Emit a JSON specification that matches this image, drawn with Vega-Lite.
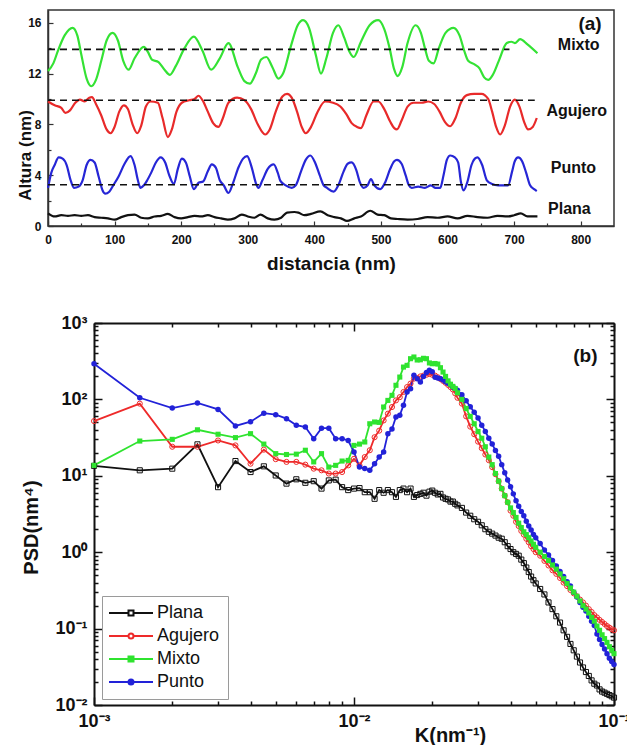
{
  "$schema": "https://vega.github.io/schema/vega-lite/v6.json",
  "background": "white",
  "padding": {"left": 15, "top": 9, "right": 5, "bottom": 0},
  "spacing": 40,
  "config": {"font": "Liberation Sans"},
  "resolve": {"scale": {"color": "independent", "shape": "independent", "x": "independent", "y": "independent"}},
  "vconcat": [
    {
      "width": 566,
      "height": 216,
      "view": {"stroke": "#333", "strokeWidth": 1.5},
      "encoding": {
        "x": {"field": "x", "type": "quantitative", "title": "distancia (nm)",
          "scale": {"domain": [0, 850], "nice": false, "zero": false},
          "axis": {"values": [0,50,100,150,200,250,300,350,400,450,500,550,600,650,700,750,800],
            "labelExpr": "datum.value % 100 == 0 ? datum.label : ''",
            "tickSize": {"condition": {"test": "datum.value % 100 == 0", "value": -5}, "value": -3},
            "labelPadding": 13, "labelFontSize": 12, "labelFontWeight": "bold", "labelColor": "#111",
            "labelFlush": false, "labelOverlap": false, "grid": false,
            "tickColor": "#333", "tickWidth": 1.2, "domainColor": "#333", "domainWidth": 1.5,
            "titleFontSize": 19, "titleFontWeight": "bold", "titleColor": "#111", "titleY": 28}},
        "y": {"field": "y", "type": "quantitative", "title": "Altura (nm)",
          "scale": {"domain": [0, 17], "nice": false, "zero": false},
          "axis": {"values": [0,2,4,6,8,10,12,14,16],
            "labelExpr": "datum.value % 4 == 0 ? datum.label : ''",
            "tickSize": {"condition": {"test": "datum.value % 4 == 0", "value": -5}, "value": -3},
            "labelPadding": 12, "labelFontSize": 12, "labelFontWeight": "bold", "labelColor": "#111",
            "labelOverlap": false, "grid": false,
            "tickColor": "#333", "tickWidth": 1.2, "domainColor": "#333", "domainWidth": 1.5,
            "titleFontSize": 17, "titleFontWeight": "bold", "titleColor": "#111", "titleX": -14, "titleY": 145}}
      },
      "layer": [
        {
          "data": {"values": [
            {"s":"Mixto","x":0,"y":12.2},{"s":"Mixto","x":8,"y":12.8},{"s":"Mixto","x":15,"y":13.8},{"s":"Mixto","x":25,"y":15.0},{"s":"Mixto","x":37,"y":15.6},{"s":"Mixto","x":44,"y":15.0},{"s":"Mixto","x":50,"y":13.5},{"s":"Mixto","x":58,"y":11.6},{"s":"Mixto","x":65,"y":11.0},{"s":"Mixto","x":72,"y":11.5},{"s":"Mixto","x":80,"y":13.0},{"s":"Mixto","x":88,"y":14.6},{"s":"Mixto","x":97,"y":15.2},{"s":"Mixto","x":105,"y":14.6},{"s":"Mixto","x":113,"y":13.0},{"s":"Mixto","x":121,"y":12.3},{"s":"Mixto","x":130,"y":13.2},{"s":"Mixto","x":144,"y":14.1},{"s":"Mixto","x":150,"y":13.7},{"s":"Mixto","x":156,"y":13.1},{"s":"Mixto","x":166,"y":12.9},{"s":"Mixto","x":175,"y":12.3},{"s":"Mixto","x":183,"y":11.9},{"s":"Mixto","x":192,"y":12.6},{"s":"Mixto","x":205,"y":14.0},{"s":"Mixto","x":219,"y":14.9},{"s":"Mixto","x":232,"y":13.8},{"s":"Mixto","x":245,"y":12.3},{"s":"Mixto","x":258,"y":13.2},{"s":"Mixto","x":271,"y":14.4},{"s":"Mixto","x":285,"y":12.5},{"s":"Mixto","x":295,"y":11.4},{"s":"Mixto","x":303,"y":11.2},{"s":"Mixto","x":312,"y":12.0},{"s":"Mixto","x":320,"y":13.1},{"s":"Mixto","x":328,"y":13.3},{"s":"Mixto","x":337,"y":12.5},{"s":"Mixto","x":346,"y":11.6},{"s":"Mixto","x":353,"y":12.0},{"s":"Mixto","x":365,"y":14.2},{"s":"Mixto","x":375,"y":15.8},{"s":"Mixto","x":383,"y":16.2},{"s":"Mixto","x":392,"y":15.6},{"s":"Mixto","x":402,"y":13.5},{"s":"Mixto","x":410,"y":12.0},{"s":"Mixto","x":418,"y":13.2},{"s":"Mixto","x":428,"y":15.2},{"s":"Mixto","x":436,"y":15.8},{"s":"Mixto","x":445,"y":14.8},{"s":"Mixto","x":452,"y":13.8},{"s":"Mixto","x":459,"y":13.3},{"s":"Mixto","x":470,"y":14.5},{"s":"Mixto","x":483,"y":15.8},{"s":"Mixto","x":496,"y":16.2},{"s":"Mixto","x":505,"y":15.5},{"s":"Mixto","x":513,"y":14.0},{"s":"Mixto","x":520,"y":12.3},{"s":"Mixto","x":525,"y":11.8},{"s":"Mixto","x":532,"y":12.5},{"s":"Mixto","x":540,"y":14.4},{"s":"Mixto","x":552,"y":15.8},{"s":"Mixto","x":560,"y":15.2},{"s":"Mixto","x":566,"y":14.0},{"s":"Mixto","x":572,"y":13.0},{"s":"Mixto","x":579,"y":12.8},{"s":"Mixto","x":587,"y":14.0},{"s":"Mixto","x":597,"y":15.2},{"s":"Mixto","x":609,"y":15.6},{"s":"Mixto","x":618,"y":15.0},{"s":"Mixto","x":625,"y":13.8},{"s":"Mixto","x":631,"y":13.0},{"s":"Mixto","x":641,"y":12.7},{"s":"Mixto","x":648,"y":12.4},{"s":"Mixto","x":655,"y":11.7},{"s":"Mixto","x":661,"y":11.5},{"s":"Mixto","x":668,"y":11.9},{"s":"Mixto","x":677,"y":13.0},{"s":"Mixto","x":689,"y":14.4},{"s":"Mixto","x":696,"y":14.5},{"s":"Mixto","x":701,"y":14.4},{"s":"Mixto","x":709,"y":14.7},{"s":"Mixto","x":720,"y":14.3},{"s":"Mixto","x":735,"y":13.6},
            {"s":"Agujero","x":0,"y":9.8},{"s":"Agujero","x":10,"y":9.5},{"s":"Agujero","x":20,"y":9.3},{"s":"Agujero","x":26,"y":8.9},{"s":"Agujero","x":33,"y":9.1},{"s":"Agujero","x":41,"y":9.7},{"s":"Agujero","x":48,"y":9.95},{"s":"Agujero","x":55,"y":9.8},{"s":"Agujero","x":62,"y":10.1},{"s":"Agujero","x":66,"y":10.15},{"s":"Agujero","x":72,"y":9.6},{"s":"Agujero","x":80,"y":8.7},{"s":"Agujero","x":88,"y":7.6},{"s":"Agujero","x":94,"y":7.3},{"s":"Agujero","x":100,"y":7.8},{"s":"Agujero","x":107,"y":9.0},{"s":"Agujero","x":114,"y":9.5},{"s":"Agujero","x":120,"y":9.2},{"s":"Agujero","x":127,"y":8.0},{"s":"Agujero","x":134,"y":7.3},{"s":"Agujero","x":140,"y":7.9},{"s":"Agujero","x":147,"y":9.4},{"s":"Agujero","x":154,"y":9.8},{"s":"Agujero","x":165,"y":9.7},{"s":"Agujero","x":172,"y":8.5},{"s":"Agujero","x":180,"y":7.0},{"s":"Agujero","x":186,"y":7.6},{"s":"Agujero","x":193,"y":9.0},{"s":"Agujero","x":201,"y":9.7},{"s":"Agujero","x":212,"y":9.9},{"s":"Agujero","x":220,"y":10.0},{"s":"Agujero","x":226,"y":10.25},{"s":"Agujero","x":232,"y":9.9},{"s":"Agujero","x":240,"y":9.0},{"s":"Agujero","x":248,"y":8.1},{"s":"Agujero","x":256,"y":7.8},{"s":"Agujero","x":262,"y":8.4},{"s":"Agujero","x":271,"y":9.7},{"s":"Agujero","x":284,"y":10.1},{"s":"Agujero","x":295,"y":9.9},{"s":"Agujero","x":305,"y":9.2},{"s":"Agujero","x":315,"y":8.0},{"s":"Agujero","x":326,"y":7.2},{"s":"Agujero","x":333,"y":7.6},{"s":"Agujero","x":342,"y":9.0},{"s":"Agujero","x":352,"y":10.2},{"s":"Agujero","x":359,"y":10.4},{"s":"Agujero","x":366,"y":10.1},{"s":"Agujero","x":374,"y":9.0},{"s":"Agujero","x":381,"y":7.8},{"s":"Agujero","x":387,"y":7.3},{"s":"Agujero","x":395,"y":7.8},{"s":"Agujero","x":405,"y":9.0},{"s":"Agujero","x":416,"y":9.8},{"s":"Agujero","x":428,"y":9.7},{"s":"Agujero","x":439,"y":9.4},{"s":"Agujero","x":448,"y":8.8},{"s":"Agujero","x":456,"y":8.1},{"s":"Agujero","x":464,"y":7.8},{"s":"Agujero","x":470,"y":7.7},{"s":"Agujero","x":478,"y":8.7},{"s":"Agujero","x":489,"y":9.8},{"s":"Agujero","x":496,"y":9.8},{"s":"Agujero","x":505,"y":9.2},{"s":"Agujero","x":514,"y":8.2},{"s":"Agujero","x":520,"y":7.7},{"s":"Agujero","x":524,"y":7.6},{"s":"Agujero","x":531,"y":8.3},{"s":"Agujero","x":540,"y":9.4},{"s":"Agujero","x":549,"y":9.7},{"s":"Agujero","x":561,"y":9.7},{"s":"Agujero","x":571,"y":9.8},{"s":"Agujero","x":580,"y":9.6},{"s":"Agujero","x":588,"y":9.0},{"s":"Agujero","x":596,"y":8.2},{"s":"Agujero","x":604,"y":7.85},{"s":"Agujero","x":612,"y":8.5},{"s":"Agujero","x":620,"y":9.7},{"s":"Agujero","x":629,"y":10.3},{"s":"Agujero","x":640,"y":10.4},{"s":"Agujero","x":651,"y":10.4},{"s":"Agujero","x":661,"y":10.0},{"s":"Agujero","x":667,"y":9.0},{"s":"Agujero","x":673,"y":7.8},{"s":"Agujero","x":679,"y":7.2},{"s":"Agujero","x":686,"y":7.9},{"s":"Agujero","x":694,"y":9.4},{"s":"Agujero","x":701,"y":9.95},{"s":"Agujero","x":708,"y":9.4},{"s":"Agujero","x":715,"y":8.2},{"s":"Agujero","x":721,"y":7.6},{"s":"Agujero","x":728,"y":7.8},{"s":"Agujero","x":734,"y":8.5},
            {"s":"Punto","x":0,"y":3.0},{"s":"Punto","x":5,"y":4.2},{"s":"Punto","x":10,"y":4.8},{"s":"Punto","x":16,"y":5.4},{"s":"Punto","x":22,"y":5.3},{"s":"Punto","x":28,"y":4.8},{"s":"Punto","x":34,"y":3.6},{"s":"Punto","x":39,"y":3.0},{"s":"Punto","x":46,"y":3.1},{"s":"Punto","x":52,"y":3.6},{"s":"Punto","x":58,"y":4.8},{"s":"Punto","x":64,"y":5.2},{"s":"Punto","x":70,"y":5.0},{"s":"Punto","x":76,"y":3.9},{"s":"Punto","x":82,"y":2.8},{"s":"Punto","x":86,"y":2.55},{"s":"Punto","x":92,"y":2.7},{"s":"Punto","x":98,"y":3.2},{"s":"Punto","x":106,"y":3.9},{"s":"Punto","x":115,"y":4.9},{"s":"Punto","x":124,"y":5.5},{"s":"Punto","x":130,"y":4.8},{"s":"Punto","x":135,"y":3.6},{"s":"Punto","x":139,"y":3.0},{"s":"Punto","x":144,"y":3.2},{"s":"Punto","x":149,"y":3.6},{"s":"Punto","x":155,"y":4.2},{"s":"Punto","x":162,"y":5.0},{"s":"Punto","x":169,"y":5.4},{"s":"Punto","x":176,"y":5.0},{"s":"Punto","x":182,"y":4.0},{"s":"Punto","x":189,"y":3.3},{"s":"Punto","x":195,"y":4.5},{"s":"Punto","x":201,"y":5.3},{"s":"Punto","x":207,"y":5.0},{"s":"Punto","x":213,"y":3.9},{"s":"Punto","x":219,"y":2.9},{"s":"Punto","x":226,"y":3.4},{"s":"Punto","x":233,"y":3.5},{"s":"Punto","x":240,"y":4.3},{"s":"Punto","x":246,"y":4.85},{"s":"Punto","x":252,"y":4.6},{"s":"Punto","x":258,"y":3.6},{"s":"Punto","x":264,"y":3.2},{"s":"Punto","x":271,"y":2.6},{"s":"Punto","x":278,"y":3.4},{"s":"Punto","x":286,"y":4.6},{"s":"Punto","x":293,"y":5.3},{"s":"Punto","x":299,"y":5.5},{"s":"Punto","x":306,"y":4.6},{"s":"Punto","x":312,"y":3.4},{"s":"Punto","x":316,"y":3.0},{"s":"Punto","x":322,"y":3.6},{"s":"Punto","x":330,"y":4.5},{"s":"Punto","x":339,"y":4.85},{"s":"Punto","x":345,"y":4.2},{"s":"Punto","x":349,"y":3.55},{"s":"Punto","x":357,"y":3.2},{"s":"Punto","x":366,"y":3.0},{"s":"Punto","x":372,"y":3.2},{"s":"Punto","x":380,"y":4.3},{"s":"Punto","x":387,"y":5.2},{"s":"Punto","x":394,"y":5.55},{"s":"Punto","x":401,"y":5.0},{"s":"Punto","x":408,"y":4.0},{"s":"Punto","x":414,"y":3.2},{"s":"Punto","x":419,"y":3.0},{"s":"Punto","x":429,"y":2.7},{"s":"Punto","x":436,"y":3.2},{"s":"Punto","x":444,"y":4.3},{"s":"Punto","x":450,"y":4.9},{"s":"Punto","x":456,"y":5.0},{"s":"Punto","x":463,"y":4.4},{"s":"Punto","x":468,"y":3.5},{"s":"Punto","x":474,"y":3.0},{"s":"Punto","x":480,"y":3.2},{"s":"Punto","x":485,"y":3.7},{"s":"Punto","x":490,"y":3.2},{"s":"Punto","x":499,"y":2.9},{"s":"Punto","x":506,"y":3.4},{"s":"Punto","x":514,"y":4.5},{"s":"Punto","x":520,"y":5.1},{"s":"Punto","x":524,"y":5.2},{"s":"Punto","x":531,"y":4.9},{"s":"Punto","x":537,"y":4.0},{"s":"Punto","x":542,"y":3.2},{"s":"Punto","x":546,"y":3.0},{"s":"Punto","x":556,"y":3.1},{"s":"Punto","x":566,"y":3.0},{"s":"Punto","x":575,"y":3.2},{"s":"Punto","x":582,"y":3.0},{"s":"Punto","x":589,"y":3.0},{"s":"Punto","x":594,"y":4.0},{"s":"Punto","x":599,"y":5.2},{"s":"Punto","x":604,"y":5.55},{"s":"Punto","x":611,"y":5.4},{"s":"Punto","x":616,"y":5.0},{"s":"Punto","x":620,"y":3.5},{"s":"Punto","x":624,"y":2.8},{"s":"Punto","x":630,"y":3.5},{"s":"Punto","x":636,"y":4.8},{"s":"Punto","x":641,"y":5.3},{"s":"Punto","x":645,"y":5.4},{"s":"Punto","x":652,"y":4.8},{"s":"Punto","x":659,"y":3.6},{"s":"Punto","x":667,"y":3.3},{"s":"Punto","x":676,"y":3.2},{"s":"Punto","x":684,"y":3.2},{"s":"Punto","x":691,"y":3.2},{"s":"Punto","x":697,"y":4.3},{"s":"Punto","x":701,"y":5.1},{"s":"Punto","x":706,"y":5.4},{"s":"Punto","x":712,"y":5.1},{"s":"Punto","x":718,"y":4.2},{"s":"Punto","x":724,"y":3.2},{"s":"Punto","x":730,"y":2.9},{"s":"Punto","x":734,"y":2.75},
            {"s":"Plana","x":0,"y":1.0},{"s":"Plana","x":10,"y":0.75},{"s":"Plana","x":20,"y":0.85},{"s":"Plana","x":30,"y":0.8},{"s":"Plana","x":40,"y":0.85},{"s":"Plana","x":50,"y":0.8},{"s":"Plana","x":60,"y":0.85},{"s":"Plana","x":70,"y":0.7},{"s":"Plana","x":80,"y":0.65},{"s":"Plana","x":90,"y":0.6},{"s":"Plana","x":100,"y":0.5},{"s":"Plana","x":110,"y":0.7},{"s":"Plana","x":120,"y":0.85},{"s":"Plana","x":130,"y":0.9},{"s":"Plana","x":140,"y":0.65},{"s":"Plana","x":150,"y":0.6},{"s":"Plana","x":160,"y":0.75},{"s":"Plana","x":170,"y":0.8},{"s":"Plana","x":180,"y":0.95},{"s":"Plana","x":190,"y":0.7},{"s":"Plana","x":200,"y":0.6},{"s":"Plana","x":210,"y":0.7},{"s":"Plana","x":220,"y":0.8},{"s":"Plana","x":230,"y":0.75},{"s":"Plana","x":240,"y":0.85},{"s":"Plana","x":250,"y":0.7},{"s":"Plana","x":260,"y":0.6},{"s":"Plana","x":270,"y":0.5},{"s":"Plana","x":280,"y":0.6},{"s":"Plana","x":291,"y":0.9},{"s":"Plana","x":300,"y":0.75},{"s":"Plana","x":310,"y":0.65},{"s":"Plana","x":319,"y":0.9},{"s":"Plana","x":330,"y":0.6},{"s":"Plana","x":340,"y":0.5},{"s":"Plana","x":350,"y":0.65},{"s":"Plana","x":359,"y":1.05},{"s":"Plana","x":370,"y":1.1},{"s":"Plana","x":376,"y":1.05},{"s":"Plana","x":385,"y":0.85},{"s":"Plana","x":395,"y":0.95},{"s":"Plana","x":409,"y":1.15},{"s":"Plana","x":420,"y":0.85},{"s":"Plana","x":430,"y":0.7},{"s":"Plana","x":440,"y":0.6},{"s":"Plana","x":449,"y":0.4},{"s":"Plana","x":460,"y":0.6},{"s":"Plana","x":470,"y":0.75},{"s":"Plana","x":484,"y":1.2},{"s":"Plana","x":495,"y":0.9},{"s":"Plana","x":505,"y":0.85},{"s":"Plana","x":515,"y":0.6},{"s":"Plana","x":525,"y":0.55},{"s":"Plana","x":540,"y":0.5},{"s":"Plana","x":555,"y":0.55},{"s":"Plana","x":570,"y":0.7},{"s":"Plana","x":585,"y":0.65},{"s":"Plana","x":600,"y":0.75},{"s":"Plana","x":615,"y":0.6},{"s":"Plana","x":630,"y":0.8},{"s":"Plana","x":645,"y":0.7},{"s":"Plana","x":660,"y":0.65},{"s":"Plana","x":675,"y":0.8},{"s":"Plana","x":690,"y":0.75},{"s":"Plana","x":700,"y":0.85},{"s":"Plana","x":710,"y":1.0},{"s":"Plana","x":720,"y":0.75},{"s":"Plana","x":735,"y":0.75}
          ]},
          "mark": {"type": "line", "interpolate": "monotone", "strokeWidth": 2.2},
          "encoding": {
            "color": {"field": "s", "type": "nominal", "legend": null,
              "scale": {"domain": ["Mixto", "Agujero", "Punto", "Plana"], "range": ["#34e234", "#e82a2a", "#2626d6", "#111111"]}}
          }
        },
        {
          "data": {"values": [
            {"x": 0, "x2": 693, "y": 13.9},
            {"x": 0, "x2": 731, "y": 9.9},
            {"x": 0, "x2": 697, "y": 3.25}
          ]},
          "mark": {"type": "rule", "strokeDash": [7, 5], "strokeWidth": 1.6, "color": "#111"},
          "encoding": {"x2": {"field": "x2"}}
        },
        {
          "data": {"values": [
            {"x": 797, "y": 13.88, "label": "Mixto"},
            {"x": 794, "y": 8.64, "label": "Agujero"},
            {"x": 789, "y": 4.19, "label": "Punto"},
            {"x": 783, "y": 0.97, "label": "Plana"}
          ]},
          "mark": {"type": "text", "fontSize": 16, "fontWeight": "bold", "align": "center", "baseline": "alphabetic", "color": "#111"},
          "encoding": {"text": {"field": "label"}}
        },
        {
          "data": {"values": [{"x": 814, "y": 15.45, "label": "(a)"}]},
          "mark": {"type": "text", "fontSize": 19, "fontWeight": "bold", "align": "center", "baseline": "alphabetic", "color": "#111"},
          "encoding": {"text": {"field": "label"}}
        }
      ]
    },
    {
      "width": 566,
      "height": 382,
      "view": {"stroke": null},
      "resolve": {"axis": {"x": "independent", "y": "independent"}},
      "data": {"values": [
        {"K":0.001,"Plana":13.5,"Agujero":52,"Mixto":13.7,"Punto":293},
        {"K":0.0015,"Plana":11.8,"Agujero":88,"Mixto":28.5,"Punto":105},
        {"K":0.002,"Plana":12.4,"Agujero":24,"Mixto":30,"Punto":77},
        {"K":0.0025,"Plana":25.8,"Agujero":24,"Mixto":40,"Punto":90},
        {"K":0.003,"Plana":7.1,"Agujero":29,"Mixto":35,"Punto":74},
        {"K":0.0035,"Plana":15.6,"Agujero":25,"Mixto":31.6,"Punto":45},
        {"K":0.004,"Plana":11.2,"Agujero":14.4,"Mixto":35.6,"Punto":51},
        {"K":0.0045,"Plana":13.3,"Agujero":22,"Mixto":26,"Punto":66},
        {"K":0.005,"Plana":10.1,"Agujero":16.5,"Mixto":19.5,"Punto":63},
        {"K":0.0055,"Plana":7.9,"Agujero":15.2,"Mixto":19,"Punto":56},
        {"K":0.006,"Plana":9.0,"Agujero":15.2,"Mixto":19.2,"Punto":46},
        {"K":0.0065,"Plana":8.1,"Agujero":14,"Mixto":21.6,"Punto":43.5},
        {"K":0.007,"Plana":8.5,"Agujero":12.4,"Mixto":15.2,"Punto":30.6},
        {"K":0.0075,"Plana":6.8,"Agujero":11.8,"Mixto":19.5,"Punto":42},
        {"K":0.008,"Plana":8.7,"Agujero":10.7,"Mixto":13,"Punto":42},
        {"K":0.0085,"Plana":8.9,"Agujero":10.7,"Mixto":13.7,"Punto":30.6},
        {"K":0.009,"Plana":7.1,"Agujero":11.2,"Mixto":15.6,"Punto":30.6},
        {"K":0.0095,"Plana":6.5,"Agujero":13.7,"Mixto":15.9,"Punto":29},
        {"K":0.01,"Plana":6.8,"Agujero":16.7,"Mixto":25,"Punto":20.5},
        {"K":0.0105,"Plana":6.9,"Agujero":13.7,"Mixto":26,"Punto":13},
        {"K":0.011,"Plana":6.1,"Agujero":17.6,"Mixto":27.7,"Punto":12.5},
        {"K":0.0115,"Plana":6.1,"Agujero":21.6,"Mixto":48,"Punto":11.8},
        {"K":0.012,"Plana":5.0,"Agujero":32,"Mixto":50.6,"Punto":14.4},
        {"K":0.0125,"Plana":6.5,"Agujero":39,"Mixto":50,"Punto":17.6},
        {"K":0.013,"Plana":6.0,"Agujero":53,"Mixto":79.5,"Punto":20.5},
        {"K":0.0135,"Plana":6.5,"Agujero":65,"Mixto":97,"Punto":35.6},
        {"K":0.014,"Plana":6.1,"Agujero":79.5,"Mixto":113,"Punto":41},
        {"K":0.0145,"Plana":5.3,"Agujero":97,"Mixto":153,"Punto":59},
        {"K":0.015,"Plana":6.5,"Agujero":107,"Mixto":196,"Punto":62},
        {"K":0.0155,"Plana":6.8,"Agujero":125,"Mixto":265,"Punto":84},
        {"K":0.016,"Plana":6.1,"Agujero":145,"Mixto":279,"Punto":125},
        {"K":0.0165,"Plana":6.8,"Agujero":161,"Mixto":341,"Punto":138},
        {"K":0.017,"Plana":5.3,"Agujero":187,"Mixto":359,"Punto":207},
        {"K":0.0175,"Plana":5.6,"Agujero":190,"Mixto":328,"Punto":186},
        {"K":0.018,"Plana":5.8,"Agujero":200,"Mixto":330,"Punto":169},
        {"K":0.0185,"Plana":6.0,"Agujero":205,"Mixto":345,"Punto":200},
        {"K":0.019,"Plana":5.5,"Agujero":210,"Mixto":341,"Punto":225},
        {"K":0.0195,"Plana":6.2,"Agujero":215,"Mixto":300,"Punto":240},
        {"K":0.02,"Plana":6.4,"Agujero":210,"Mixto":293,"Punto":230},
        {"K":0.0205,"Plana":6.0,"Agujero":205,"Mixto":295,"Punto":195},
        {"K":0.021,"Plana":5.7,"Agujero":195,"Mixto":290,"Punto":190},
        {"K":0.0215,"Plana":5.8,"Agujero":185,"Mixto":260,"Punto":187},
        {"K":0.022,"Plana":5.2,"Agujero":175,"Mixto":228,"Punto":180},
        {"K":0.0225,"Plana":5.0,"Agujero":165,"Mixto":200,"Punto":170},
        {"K":0.023,"Plana":4.9,"Agujero":155,"Mixto":175,"Punto":163},
        {"K":0.0235,"Plana":4.6,"Agujero":145,"Mixto":158,"Punto":155},
        {"K":0.024,"Plana":4.6,"Agujero":135,"Mixto":148,"Punto":145},
        {"K":0.0245,"Plana":4.3,"Agujero":120,"Mixto":139,"Punto":139},
        {"K":0.025,"Plana":4.1,"Agujero":105,"Mixto":122,"Punto":132},
        {"K":0.026,"Plana":3.8,"Agujero":88,"Mixto":100,"Punto":115},
        {"K":0.027,"Plana":3.3,"Agujero":60,"Mixto":76,"Punto":96},
        {"K":0.028,"Plana":3.0,"Agujero":44,"Mixto":60,"Punto":80},
        {"K":0.029,"Plana":2.7,"Agujero":35,"Mixto":48,"Punto":68},
        {"K":0.03,"Plana":2.5,"Agujero":28,"Mixto":38,"Punto":57},
        {"K":0.031,"Plana":2.25,"Agujero":23,"Mixto":31,"Punto":46},
        {"K":0.032,"Plana":2.0,"Agujero":19,"Mixto":24,"Punto":38},
        {"K":0.033,"Plana":1.85,"Agujero":16,"Mixto":17.6,"Punto":31},
        {"K":0.034,"Plana":1.75,"Agujero":13,"Mixto":14,"Punto":26},
        {"K":0.035,"Plana":1.65,"Agujero":10.5,"Mixto":10.7,"Punto":21.5},
        {"K":0.036,"Plana":1.55,"Agujero":8.5,"Mixto":8.5,"Punto":18},
        {"K":0.037,"Plana":1.5,"Agujero":6.8,"Mixto":6.8,"Punto":14},
        {"K":0.038,"Plana":1.35,"Agujero":5.5,"Mixto":5.5,"Punto":11},
        {"K":0.039,"Plana":1.2,"Agujero":4.5,"Mixto":4.5,"Punto":8.8},
        {"K":0.04,"Plana":1.1,"Agujero":3.5,"Mixto":3.8,"Punto":7.2},
        {"K":0.041,"Plana":1.0,"Agujero":3.0,"Mixto":3.3,"Punto":5.8},
        {"K":0.042,"Plana":0.95,"Agujero":2.5,"Mixto":2.85,"Punto":4.7},
        {"K":0.043,"Plana":0.9,"Agujero":2.2,"Mixto":2.4,"Punto":4.0},
        {"K":0.044,"Plana":0.8,"Agujero":1.9,"Mixto":2.1,"Punto":3.4},
        {"K":0.045,"Plana":0.72,"Agujero":1.7,"Mixto":1.85,"Punto":3.0},
        {"K":0.046,"Plana":0.63,"Agujero":1.5,"Mixto":1.7,"Punto":2.55},
        {"K":0.047,"Plana":0.55,"Agujero":1.35,"Mixto":1.55,"Punto":2.2},
        {"K":0.048,"Plana":0.48,"Agujero":1.2,"Mixto":1.4,"Punto":1.95},
        {"K":0.049,"Plana":0.43,"Agujero":1.1,"Mixto":1.27,"Punto":1.7},
        {"K":0.05,"Plana":0.39,"Agujero":1.0,"Mixto":1.16,"Punto":1.55},
        {"K":0.052,"Plana":0.33,"Agujero":0.9,"Mixto":1.0,"Punto":1.3},
        {"K":0.054,"Plana":0.28,"Agujero":0.77,"Mixto":0.88,"Punto":1.07},
        {"K":0.056,"Plana":0.22,"Agujero":0.67,"Mixto":0.78,"Punto":0.92},
        {"K":0.058,"Plana":0.18,"Agujero":0.58,"Mixto":0.68,"Punto":0.78},
        {"K":0.06,"Plana":0.145,"Agujero":0.52,"Mixto":0.6,"Punto":0.66},
        {"K":0.062,"Plana":0.12,"Agujero":0.46,"Mixto":0.52,"Punto":0.56},
        {"K":0.064,"Plana":0.095,"Agujero":0.4,"Mixto":0.45,"Punto":0.48},
        {"K":0.066,"Plana":0.078,"Agujero":0.36,"Mixto":0.39,"Punto":0.41},
        {"K":0.068,"Plana":0.063,"Agujero":0.32,"Mixto":0.34,"Punto":0.36},
        {"K":0.07,"Plana":0.052,"Agujero":0.29,"Mixto":0.3,"Punto":0.3},
        {"K":0.072,"Plana":0.043,"Agujero":0.265,"Mixto":0.265,"Punto":0.26},
        {"K":0.074,"Plana":0.036,"Agujero":0.24,"Mixto":0.23,"Punto":0.22},
        {"K":0.076,"Plana":0.031,"Agujero":0.22,"Mixto":0.2,"Punto":0.19},
        {"K":0.078,"Plana":0.027,"Agujero":0.2,"Mixto":0.18,"Punto":0.17},
        {"K":0.08,"Plana":0.024,"Agujero":0.18,"Mixto":0.16,"Punto":0.145},
        {"K":0.082,"Plana":0.021,"Agujero":0.165,"Mixto":0.14,"Punto":0.125},
        {"K":0.084,"Plana":0.019,"Agujero":0.15,"Mixto":0.125,"Punto":0.11},
        {"K":0.086,"Plana":0.018,"Agujero":0.14,"Mixto":0.108,"Punto":0.085},
        {"K":0.088,"Plana":0.016,"Agujero":0.13,"Mixto":0.095,"Punto":0.072},
        {"K":0.09,"Plana":0.015,"Agujero":0.122,"Mixto":0.083,"Punto":0.062},
        {"K":0.092,"Plana":0.0145,"Agujero":0.115,"Mixto":0.074,"Punto":0.054},
        {"K":0.094,"Plana":0.014,"Agujero":0.108,"Mixto":0.066,"Punto":0.047},
        {"K":0.096,"Plana":0.0135,"Agujero":0.103,"Mixto":0.058,"Punto":0.041},
        {"K":0.098,"Plana":0.013,"Agujero":0.098,"Mixto":0.052,"Punto":0.037},
        {"K":0.1,"Plana":0.0125,"Agujero":0.095,"Mixto":0.047,"Punto":0.034}
      ]},
      "encoding": {
        "x": {"field": "K", "type": "quantitative", "scale": {"type": "log", "domain": [0.001, 0.1], "range": [46, 566], "nice": false}, "axis": null},
        "y": {"field": "P", "type": "quantitative", "scale": {"type": "log", "domain": [0.01, 1000], "nice": false}, "axis": null},
        "color": {"field": "serie", "type": "nominal",
          "scale": {"domain": ["Plana", "Agujero", "Mixto", "Punto"], "range": ["#111111", "#ee2a2a", "#2fe32f", "#2222d8"]}}
      },
      "layer": [
        {
          "transform": [{"fold": ["Plana", "Agujero", "Mixto", "Punto"], "as": ["serie", "P"]}],
          "mark": {"type": "line", "strokeWidth": 1.8},
          "encoding": {
            "x": {"field": "K", "type": "quantitative", "title": "K(nm⁻¹)",
              "scale": {"type": "log", "domain": [0.001, 0.1], "range": [46, 566], "nice": false},
              "axis": {"orient": "bottom",
                "values": [0.001,0.002,0.003,0.004,0.005,0.006,0.007,0.008,0.009,0.01,0.02,0.03,0.04,0.05,0.06,0.07,0.08,0.09,0.1],
                "labelExpr": "datum.value == 0.001 ? '10⁻³' : datum.value == 0.01 ? '10⁻²' : datum.value == 0.1 ? '10⁻¹' : ''",
                "tickSize": {"condition": {"test": "datum.value == 0.001 || datum.value == 0.01 || datum.value == 0.1", "value": -8}, "value": -4},
                "labelPadding": 15, "labelFontSize": 18, "labelFontWeight": "bold", "labelColor": "#111",
                "labelFlush": false, "labelOverlap": false, "grid": false,
                "tickColor": "#111", "tickWidth": 1.5, "domainColor": "#111", "domainWidth": 2,
                "titleFontSize": 20, "titleFontWeight": "bold", "titleColor": "#111", "titleX": 402, "titleY": 20}},
            "y": {"field": "P", "type": "quantitative", "title": "PSD(nm⁴)",
              "scale": {"type": "log", "domain": [0.01, 1000], "nice": false},
              "axis": {"orient": "left", "offset": -46,
                "values": [0.01,0.02,0.03,0.04,0.05,0.06,0.07,0.08,0.09,0.1,0.2,0.3,0.4,0.5,0.6,0.7,0.8,0.9,1,2,3,4,5,6,7,8,9,10,20,30,40,50,60,70,80,90,100,200,300,400,500,600,700,800,900,1000],
                "labelExpr": "datum.value == 1000 ? '10³' : datum.value == 100 ? '10²' : datum.value == 10 ? '10¹' : datum.value == 1 ? '10⁰' : datum.value == 0.1 ? '10⁻¹' : datum.value == 0.01 ? '10⁻²' : ''",
                "tickSize": {"condition": {"test": "datum.value == 1000 || datum.value == 100 || datum.value == 10 || datum.value == 1 || datum.value == 0.1 || datum.value == 0.01", "value": -8}, "value": -4},
                "labelPadding": 15, "labelFontSize": 18, "labelFontWeight": "bold", "labelColor": "#111",
                "labelOverlap": false, "grid": false,
                "tickColor": "#111", "tickWidth": 1.5, "domainColor": "#111", "domainWidth": 2,
                "titleFontSize": 20, "titleFontWeight": "bold", "titleColor": "#111", "titleX": -53, "titleY": 204}},
            "color": {"field": "serie", "type": "nominal",
              "scale": {"domain": ["Plana", "Agujero", "Mixto", "Punto"], "range": ["#111111", "#ee2a2a", "#2fe32f", "#2222d8"]},
              "legend": {"title": null, "orient": "none", "legendX": 54, "legendY": 273,
                "padding": 8, "fillColor": "white", "strokeColor": "#9a9a9a",
                "labelFont": "Liberation Sans", "labelFontSize": 18, "labelColor": "#111", "labelOffset": 29,
                "symbolSize": 25, "symbolStrokeWidth": 2, "rowPadding": 5,
                "encode": {"symbols": {"update": {
                  "shape": {"signal": "(datum.value == 'Plana' || datum.value == 'Mixto') ? 'M-4,0H3.5M6.1,0H13.6M3.8,-1H5.8V1H3.8Z' : 'M-4,0H3.5M6.1,0H13.6M5.8,0A1,1,0,1,1,3.8,0A1,1,0,1,1,5.8,0Z'"},
                  "fillOpacity": {"signal": "(datum.value == 'Mixto' || datum.value == 'Punto') ? 1 : 0"},
                  "strokeWidth": {"value": 2}
                }}}}}
          }
        },
        {
          "transform": [
            {"fold": ["Plana", "Agujero", "Mixto", "Punto"], "as": ["serie", "P"]},
            {"filter": "datum.serie == 'Plana'"}
          ],
          "mark": {"type": "point", "shape": "square", "filled": false, "strokeWidth": 1, "size": 26, "opacity": 1}
        },
        {
          "transform": [
            {"fold": ["Plana", "Agujero", "Mixto", "Punto"], "as": ["serie", "P"]},
            {"filter": "datum.serie == 'Agujero'"}
          ],
          "mark": {"type": "point", "shape": "circle", "filled": false, "strokeWidth": 1, "size": 26, "opacity": 1}
        },
        {
          "transform": [
            {"fold": ["Plana", "Agujero", "Mixto", "Punto"], "as": ["serie", "P"]},
            {"filter": "datum.serie == 'Punto'"}
          ],
          "mark": {"type": "point", "shape": "circle", "filled": true, "size": 30, "opacity": 1}
        },
        {
          "transform": [
            {"fold": ["Plana", "Agujero", "Mixto", "Punto"], "as": ["serie", "P"]},
            {"filter": "datum.serie == 'Mixto'"}
          ],
          "mark": {"type": "point", "shape": "square", "filled": true, "size": 26, "opacity": 1}
        },
        {
          "data": {"values": [{"K": 0.0776, "P": 309, "label": "(b)"}]},
          "mark": {"type": "text", "fontSize": 19, "fontWeight": "bold", "align": "center", "baseline": "alphabetic"},
          "encoding": {
            "x": {"field": "K", "type": "quantitative", "scale": {"type": "log", "domain": [0.001, 0.1], "range": [46, 566], "nice": false},
              "axis": {"orient": "top", "title": null, "labels": false, "grid": false,
                "values": [0.001,0.002,0.003,0.004,0.005,0.006,0.007,0.008,0.009,0.01,0.02,0.03,0.04,0.05,0.06,0.07,0.08,0.09,0.1],
                "tickSize": {"condition": {"test": "datum.value == 0.001 || datum.value == 0.01 || datum.value == 0.1", "value": -8}, "value": -4},
                "tickColor": "#111", "tickWidth": 1.5, "domainColor": "#111", "domainWidth": 2}},
            "y": {"field": "P", "type": "quantitative", "scale": {"type": "log", "domain": [0.01, 1000], "nice": false},
              "axis": {"orient": "right", "title": null, "labels": false, "grid": false,
                "values": [0.01,0.02,0.03,0.04,0.05,0.06,0.07,0.08,0.09,0.1,0.2,0.3,0.4,0.5,0.6,0.7,0.8,0.9,1,2,3,4,5,6,7,8,9,10,20,30,40,50,60,70,80,90,100,200,300,400,500,600,700,800,900,1000],
                "tickSize": {"condition": {"test": "datum.value == 1000 || datum.value == 100 || datum.value == 10 || datum.value == 1 || datum.value == 0.1 || datum.value == 0.01", "value": -8}, "value": -4},
                "tickColor": "#111", "tickWidth": 1.5, "domainColor": "#111", "domainWidth": 2}},
            "color": {"value": "#111111"},
            "text": {"field": "label"}
          }
        }
      ]
    }
  ]
}
